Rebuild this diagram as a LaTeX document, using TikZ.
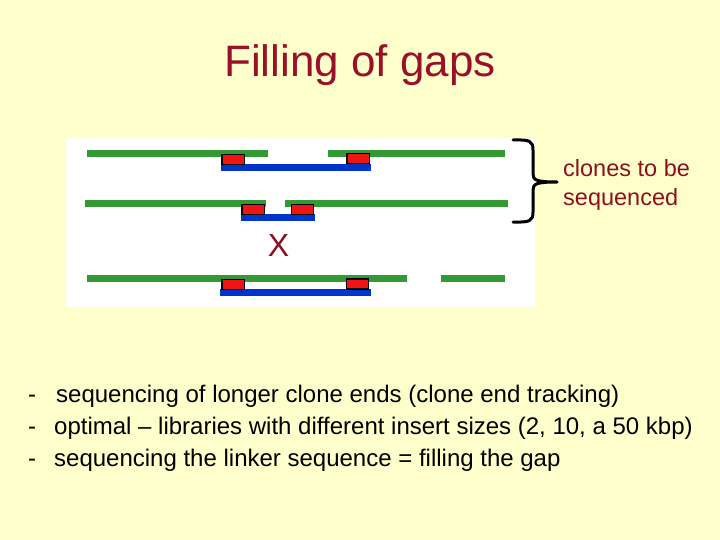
\documentclass[tikz,border=0pt]{standalone}
\usepackage{fontspec}
\setmainfont{Liberation Sans}
\definecolor{bgyellow}{RGB}{255,255,204}
\definecolor{titlered}{RGB}{153,17,40}
\definecolor{darkred}{RGB}{140,16,32}
\definecolor{clonegreen}{RGB}{51,153,51}
\definecolor{linkblue}{RGB}{0,51,204}
\definecolor{endred}{RGB}{240,20,20}
\begin{document}
\begin{tikzpicture}[x=1pt,y=-1pt,
  clone/.style={draw=clonegreen,line width=6.5pt},
  linker/.style={draw=linkblue,line width=6.5pt},
  endbox/.style={draw=black,fill=endred,line width=1.3pt,minimum width=22.5pt,minimum height=10pt,inner sep=0pt,outer sep=0pt},
  bullet/.style={anchor=base west,inner sep=0pt,font=\fontsize{24}{28}\selectfont}]
\useasboundingbox[fill=bgyellow] (0,0) rectangle (720,540);
% title
\node[anchor=base,inner sep=0pt,text=titlered,font=\fontsize{44}{50}\selectfont] (title) at (360,77) {Filling of gaps};
% white panel
\fill[white] (66,138) rectangle (535,307);
% row 1
\draw[clone] (86.7,153.5) -- (267.7,153.5);
\draw[clone] (328,153.5) -- (505,153.5);
\draw[linker] (221,167.3) -- (371,167.3);
\node[endbox] (r1a) at (233.3,159.2) {};
\node[endbox] (r1b) at (358.3,158.7) {};
% row 2
\draw[clone] (85,203.5) -- (266,203.5);
\draw[clone] (285,203.5) -- (508,203.5);
\draw[linker] (241,217.5) -- (315,217.5);
\node[endbox] (r2a) at (253.3,209.3) {};
\node[endbox] (r2b) at (302.5,209.6) {};
% X
\node[inner sep=0pt,text=darkred,font=\fontsize{32}{36}\selectfont] (x) at (278.5,245) {X};
% row 3
\draw[clone] (86.7,278.5) -- (406.7,278.5);
\draw[clone] (441,278.5) -- (505,278.5);
\draw[linker] (220,292.5) -- (371,292.5);
\node[endbox] (r3a) at (233.3,284.3) {};
\node[endbox] (r3b) at (357.5,284) {};
% brace
\coordinate (btop) at (513,140);
\coordinate (bbot) at (513,222);
\coordinate (btip) at (557,182);
\draw[black,line width=3pt,line cap=round,line join=round]
  (btop) .. controls (530,139.5) and (533,141) .. (533,150) -- (533,174)
  .. controls (533,180) and (536,182) .. (btip)
  .. controls (536,182) and (533,184) .. (533,190) -- (533,212)
  .. controls (533,221) and (530,222.5) .. (bbot);
\node[anchor=base west,inner sep=0pt,align=left,text=darkred,font=\fontsize{23.5}{29}\selectfont] (lbl) at (563,206) {clones to be\\sequenced};
% bullets
\node[bullet] (b1) at (28,402) {-\hspace{20pt}sequencing of longer clone ends (clone end tracking)};
\node[bullet] (b2) at (28,434) {-\hspace{18pt}optimal -- libraries with different insert sizes (2, 10, a 50 kbp)};
\node[bullet] (b3) at (28,466) {-\hspace{18pt}sequencing the linker sequence = filling the gap};
\end{tikzpicture}
\end{document}
